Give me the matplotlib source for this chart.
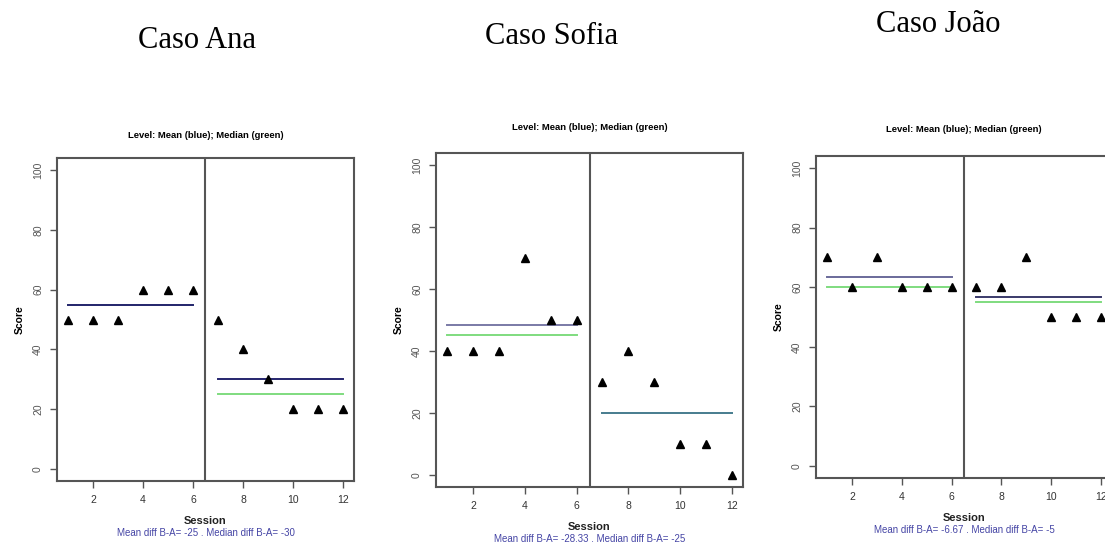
import numpy as np
import matplotlib
matplotlib.use("Agg")
import matplotlib.pyplot as plt

# ---- data ----
cases = ["Caso Ana", "Caso Sofia", "Caso João"]
sessions = [1, 2, 3, 4, 5, 6, 7, 8, 9, 10, 11, 12]
scores_ana = [50, 50, 50, 60, 60, 60, 50, 40, 30, 20, 20, 20]
scores_sofia = [40, 40, 40, 70, 50, 50, 30, 40, 30, 10, 10, 0]
scores_joao = [70, 60, 70, 60, 60, 60, 60, 60, 70, 50, 50, 50]
phase_a_len = 6
xticks = [2, 4, 6, 8, 10, 12]
yticks = [0, 20, 40, 60, 80, 100]
panel_title = "Level: Mean (blue); Median (green)"

all_scores = [scores_ana, scores_sofia, scores_joao]

# ---- layout (pixel boxes: left, top, right, bottom) ----
W, H = 1105, 549
boxes = [(57, 158, 354, 481), (436, 153, 743, 487), (816, 156, 1112, 478)]
case_pos = [(197, 40), (552, 36), (938, 24)]
title_y = [135, 128, 130]
mean_col_a = ['#25256e', '#7a7aa6', '#6a6a9a']
mean_col_b = ['#25256e', '#4a7d92', '#3a3a6a']
green = '#7fdc7f'
gray = '#555555'

fig = plt.figure(figsize=(W / 100, H / 100), dpi=100)
fig.patch.set_facecolor('white')

for i, (name, sc) in enumerate(zip(cases, all_scores)):
    l, t, r, b = boxes[i]
    ax = fig.add_axes([l / W, 1 - b / H, (r - l) / W, (b - t) / H])
    x = np.array(sessions)
    y = np.array(sc, dtype=float)
    a, bb = y[:phase_a_len], y[phase_a_len:]
    xa, xb = x[:phase_a_len], x[phase_a_len:]
    mean_a, med_a = a.mean(), np.median(a)
    mean_b, med_b = bb.mean(), np.median(bb)

    ax.plot([xa[0], xa[-1]], [med_a, med_a], color=green, lw=1.4, zorder=2)
    ax.plot([xb[0], xb[-1]], [med_b, med_b], color=green, lw=1.4, zorder=2)
    ax.plot([xa[0], xa[-1]], [mean_a, mean_a], color=mean_col_a[i], lw=1.4, zorder=3)
    ax.plot([xb[0], xb[-1]], [mean_b, mean_b], color=mean_col_b[i], lw=1.4, zorder=3)
    ax.axvline(phase_a_len + 0.5, color='#555555', lw=1.5, zorder=1)
    ax.plot(x, y, linestyle='none', marker='^', markersize=5.5,
            color='black', zorder=4)

    ax.set_xlim(0.56, 12.44)
    ax.set_ylim(-4, 104)
    ax.set_xticks(xticks)
    ax.set_yticks(yticks)
    ax.set_xticklabels([str(v) for v in xticks], fontsize=7.5, color='#333333',
                       family='Liberation Sans')
    ax.set_yticklabels([str(v) for v in yticks], fontsize=7.5, color='#555555',
                       rotation=90, va='center', family='Liberation Sans')
    ax.tick_params(direction='out', length=5, width=1, color='#555555', pad=5)
    for s in ax.spines.values():
        s.set_color(gray)
        s.set_linewidth(1.5)

    ax.set_ylabel("Score", fontsize=7.5, fontweight='bold',
                  family='Liberation Sans', labelpad=6)

    cx = (l + r) / 2
    fig.text(cx / W, 1 - (b + 40) / H, "Session", ha='center', va='center',
             fontsize=8, fontweight='bold', family='Liberation Sans', color='#222222')
    diff_mean = mean_b - mean_a
    diff_med = med_b - med_a
    fm = lambda v: ("%.2f" % v).rstrip('0').rstrip('.')
    fig.text(cx / W, 1 - (b + 52) / H,
             "Mean diff B-A= %s . Median diff B-A= %s" % (fm(diff_mean), fm(diff_med)),
             ha='center', va='center', fontsize=7, color='#4545a5',
             family='Liberation Sans')
    fig.text(cx / W, 1 - title_y[i] / H, panel_title, ha='center', va='center',
             fontsize=6.8, fontweight='bold', family='Liberation Sans')
    px, py = case_pos[i]
    fig.text(px / W, 1 - py / H, name, ha='center', va='center',
             fontsize=22, family='Liberation Serif')

fig.savefig("out.png", dpi=100, facecolor='white')
